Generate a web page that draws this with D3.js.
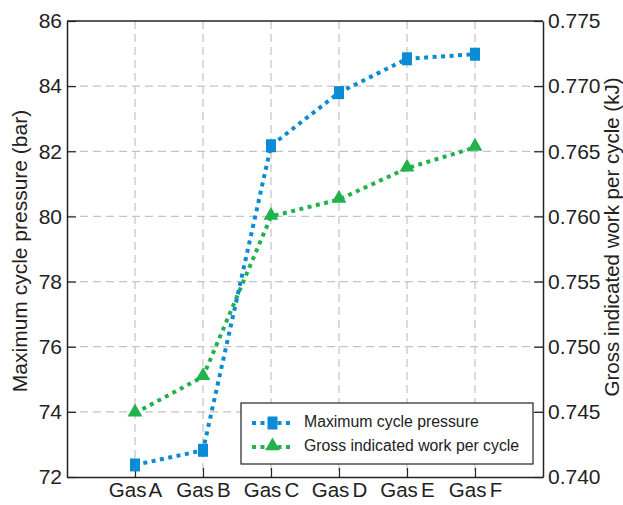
<!DOCTYPE html>
<html>
<head>
<meta charset="utf-8">
<script src="https://cdn.jsdelivr.net/npm/d3@7"></script>
<style>
  body { margin: 0; background: #fff; }
  svg { display: block; font-family: "Liberation Sans", Arial, sans-serif; }
</style>
</head>
<body>
<svg id="chart" width="623" height="505"></svg>
<script>
const categories = ["Gas A", "Gas B", "Gas C", "Gas D", "Gas E", "Gas F"];
const pressure = [72.37, 72.82, 82.17, 83.80, 84.84, 84.98];
const work = [0.7449, 0.7477, 0.7600, 0.7613, 0.7637, 0.7653];
const leftTicks = [72, 74, 76, 78, 80, 82, 84, 86];
const rightTicks = [0.740, 0.745, 0.750, 0.755, 0.760, 0.765, 0.770, 0.775];

const svg = d3.select("#chart");
const margin = { top: 21, right: 80, bottom: 28, left: 67 };
const width = 623, height = 505;
const x0 = margin.left, x1 = width - margin.right;
const y0 = height - margin.bottom, y1 = margin.top;

const blue = "#0a8bd6";
const green = "#22b24c";
const ink = "#222";
const font = "Liberation Sans, Arial, sans-serif";

const x = d3.scaleLinear().domain([0, categories.length + 1]).range([x0, x1]);
const yL = d3.scaleLinear().domain([72, 86]).range([y0, y1]);
const yR = d3.scaleLinear().domain([0.740, 0.775]).range([y0, y1]);

// grid
const grid = svg.append("g").attr("stroke", "#c4c4c4").attr("stroke-width", 1.2)
  .attr("stroke-dasharray", "8,5");
categories.forEach((c, i) => {
  grid.append("line").attr("x1", x(i + 1)).attr("x2", x(i + 1))
    .attr("y1", y1).attr("y2", y0);
});
leftTicks.slice(1, -1).forEach(t => {
  grid.append("line").attr("x1", x0).attr("x2", x1)
    .attr("y1", yL(t)).attr("y2", yL(t));
});

// axes (ticks pointing inward)
const axisL = svg.append("g").attr("transform", `translate(${x0},0)`)
  .call(d3.axisLeft(yL).tickValues(leftTicks).tickSizeInner(-9).tickSizeOuter(0).tickPadding(5));
const axisR = svg.append("g").attr("transform", `translate(${x1},0)`)
  .call(d3.axisRight(yR).tickValues(rightTicks).tickFormat(d3.format(".3f"))
    .tickSizeInner(-9).tickSizeOuter(0).tickPadding(5));
const axisB = svg.append("g").attr("transform", `translate(0,${y0})`)
  .call(d3.axisBottom(x).tickValues(categories.map((c, i) => i + 1))
    .tickFormat((d) => categories[d - 1]).tickSizeInner(-9).tickSizeOuter(0).tickPadding(5));
svg.append("line").attr("x1", x0).attr("x2", x1).attr("y1", y1).attr("y2", y1)
  .attr("stroke", ink).attr("stroke-width", 1.5);

[axisL, axisR, axisB].forEach(a => {
  a.attr("font-family", font).attr("font-size", 21);
  a.selectAll(".domain").attr("stroke", ink).attr("stroke-width", 1.5);
  a.selectAll(".tick line").attr("stroke", ink).attr("stroke-width", 1.2);
  a.selectAll("text").attr("fill", ink);
});
axisB.selectAll("text").attr("dy", "0.71em").attr("font-size", 20.5).attr("word-spacing", -2.5);

// axis titles
svg.append("text")
  .attr("transform", `translate(21,${(y0 + y1) / 2 + 2}) rotate(-90)`)
  .attr("text-anchor", "middle")
  .attr("dominant-baseline", "middle")
  .attr("font-size", 21)
  .attr("fill", ink)
  .text("Maximum cycle pressure (bar)");
svg.append("text")
  .attr("transform", `translate(614,${(y0 + y1) / 2 - 12}) rotate(-90)`)
  .attr("text-anchor", "middle")
  .attr("dominant-baseline", "middle")
  .attr("font-size", 20.5)
  .attr("fill", ink)
  .text("Gross indicated work per cycle (kJ)");

// lines
const linePress = d3.line().x((d, i) => x(i + 1)).y(d => yL(d));
const lineWork = d3.line().x((d, i) => x(i + 1)).y(d => yR(d));

svg.append("path").datum(work).attr("d", lineWork)
  .attr("fill", "none").attr("stroke", green).attr("stroke-width", 4)
  .attr("stroke-dasharray", "4,4.5");
svg.append("path").datum(pressure).attr("d", linePress)
  .attr("fill", "none").attr("stroke", blue).attr("stroke-width", 4)
  .attr("stroke-dasharray", "4,4.5");

const tri = d3.symbol().type(d3.symbolTriangle).size(95);
svg.append("g").selectAll("path").data(work).enter().append("path")
  .attr("d", tri)
  .attr("transform", (d, i) => `translate(${x(i + 1)},${yR(d) - 1})`)
  .attr("fill", green);
svg.append("g").selectAll("rect").data(pressure).enter().append("rect")
  .attr("x", (d, i) => x(i + 1) - 5)
  .attr("y", d => yL(d) - 6.5)
  .attr("width", 10).attr("height", 13)
  .attr("fill", blue);

// legend
const lg = svg.append("g").attr("transform", "translate(241,403)");
lg.append("rect").attr("width", 292).attr("height", 61)
  .attr("fill", "#fff").attr("stroke", ink).attr("stroke-width", 1.2);
const entries = [
  { label: "Maximum cycle pressure", color: blue, shape: "square" },
  { label: "Gross indicated work per cycle", color: green, shape: "triangle" }
];
entries.forEach((e, i) => {
  const yy = 20 + i * 24;
  lg.append("line").attr("x1", 11).attr("x2", 53).attr("y1", yy).attr("y2", yy)
    .attr("stroke", e.color).attr("stroke-width", 4).attr("stroke-dasharray", "4,4.5");
  if (e.shape === "square") {
    lg.append("rect").attr("x", 26.5).attr("y", yy - 6.5).attr("width", 10).attr("height", 13)
      .attr("fill", e.color);
  } else {
    lg.append("path").attr("d", tri).attr("transform", `translate(31.5,${yy - 1})`)
      .attr("fill", e.color);
  }
  lg.append("text").attr("x", 63).attr("y", yy).attr("dominant-baseline", "middle")
    .attr("font-size", 15.8).attr("font-family", font).attr("fill", ink).text(e.label);
});
</script>
</body>
</html>
